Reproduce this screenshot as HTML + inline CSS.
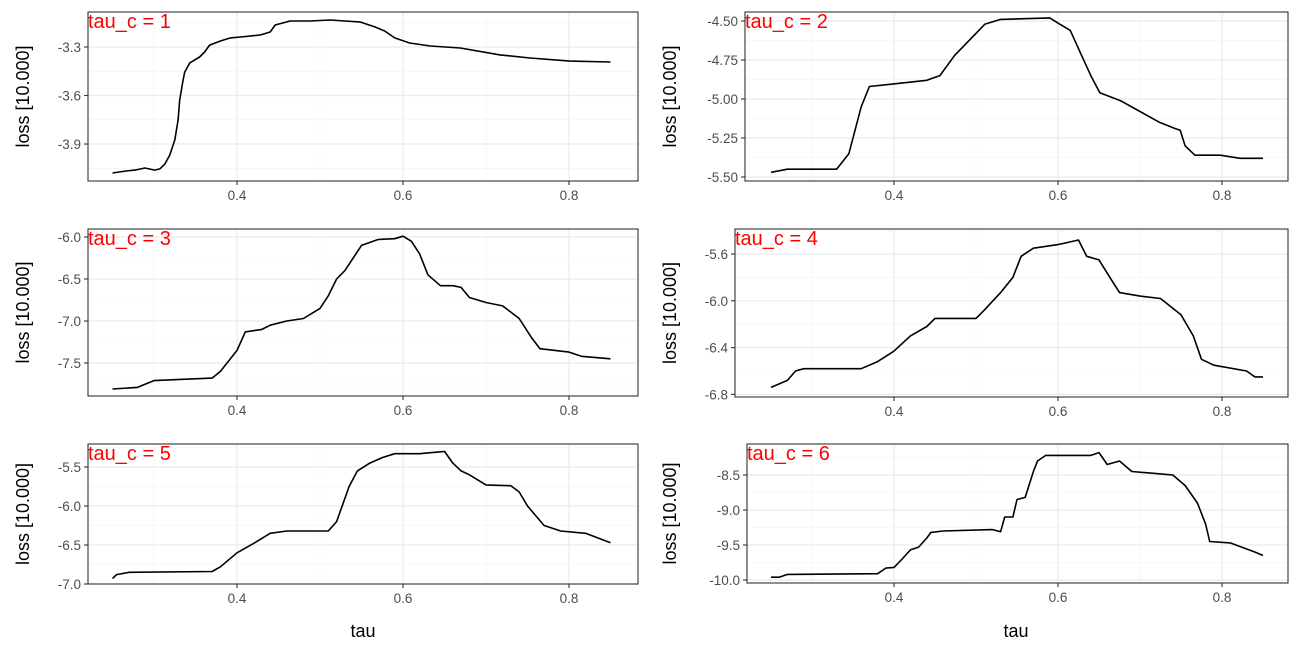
<!DOCTYPE html>
<html><head><meta charset="utf-8"><style>
body{margin:0;background:#fff}
svg{display:block;font-family:"Liberation Sans",sans-serif}
</style></head><body>
<svg id="chart" width="1299" height="649"></svg>
<script>
const xTicks=[0.4,0.6,0.8];
const xMinor=[0.3,0.5,0.7];
const p1Tau=[0.25,0.266,0.277,0.289,0.301,0.307,0.313,0.319,0.325,0.329,0.331,0.335,0.337,0.343,0.349,0.355,0.361,0.367,0.38,0.392,0.404,0.428,0.44,0.446,0.464,0.488,0.512,0.53,0.548,0.566,0.578,0.59,0.608,0.633,0.669,0.717,0.753,0.801,0.85];
const p1Loss=[-4.079,-4.067,-4.061,-4.048,-4.061,-4.054,-4.024,-3.968,-3.875,-3.751,-3.628,-3.504,-3.455,-3.399,-3.38,-3.362,-3.331,-3.288,-3.263,-3.244,-3.238,-3.226,-3.207,-3.164,-3.139,-3.139,-3.133,-3.139,-3.145,-3.176,-3.201,-3.244,-3.275,-3.294,-3.306,-3.349,-3.368,-3.387,-3.393];
const p2Tau=[0.25,0.27,0.33,0.345,0.36,0.37,0.44,0.456,0.474,0.487,0.511,0.53,0.59,0.602,0.615,0.627,0.64,0.651,0.676,0.70,0.724,0.743,0.749,0.755,0.767,0.798,0.822,0.85];
const p2Loss=[-5.47,-5.45,-5.45,-5.35,-5.05,-4.92,-4.88,-4.85,-4.72,-4.65,-4.52,-4.49,-4.48,-4.52,-4.56,-4.7,-4.85,-4.96,-5.01,-5.08,-5.15,-5.19,-5.2,-5.3,-5.36,-5.36,-5.38,-5.38];
const p3Tau=[0.25,0.28,0.30,0.37,0.38,0.40,0.41,0.43,0.44,0.46,0.48,0.50,0.51,0.52,0.53,0.55,0.57,0.59,0.60,0.61,0.62,0.63,0.645,0.66,0.67,0.68,0.70,0.72,0.74,0.755,0.765,0.80,0.815,0.85];
const p3Loss=[-7.81,-7.79,-7.71,-7.68,-7.6,-7.35,-7.13,-7.1,-7.05,-7.0,-6.97,-6.85,-6.7,-6.5,-6.4,-6.1,-6.03,-6.02,-5.99,-6.05,-6.2,-6.45,-6.58,-6.58,-6.6,-6.72,-6.78,-6.82,-6.97,-7.2,-7.33,-7.37,-7.42,-7.45];
const p4Tau=[0.25,0.27,0.28,0.29,0.36,0.38,0.40,0.42,0.44,0.45,0.50,0.51,0.53,0.545,0.555,0.57,0.60,0.625,0.635,0.65,0.665,0.675,0.70,0.725,0.75,0.765,0.775,0.79,0.83,0.84,0.85];
const p4Loss=[-6.74,-6.68,-6.6,-6.58,-6.58,-6.52,-6.43,-6.3,-6.22,-6.15,-6.15,-6.08,-5.93,-5.8,-5.62,-5.55,-5.52,-5.48,-5.62,-5.65,-5.82,-5.93,-5.96,-5.98,-6.12,-6.3,-6.5,-6.55,-6.6,-6.65,-6.65];
const p5Tau=[0.25,0.255,0.27,0.37,0.38,0.40,0.42,0.44,0.46,0.51,0.52,0.525,0.535,0.545,0.56,0.575,0.59,0.62,0.64,0.65,0.66,0.67,0.68,0.70,0.73,0.74,0.75,0.77,0.79,0.82,0.85];
const p5Loss=[-6.93,-6.88,-6.85,-6.84,-6.78,-6.6,-6.48,-6.35,-6.32,-6.32,-6.2,-6.05,-5.75,-5.55,-5.45,-5.38,-5.33,-5.33,-5.31,-5.3,-5.45,-5.55,-5.6,-5.73,-5.74,-5.82,-6.0,-6.25,-6.32,-6.35,-6.47];
const p6Tau=[0.25,0.26,0.27,0.38,0.39,0.40,0.41,0.42,0.43,0.44,0.445,0.46,0.52,0.53,0.535,0.545,0.55,0.56,0.57,0.575,0.585,0.64,0.65,0.66,0.675,0.69,0.72,0.74,0.755,0.77,0.78,0.785,0.81,0.84,0.85];
const p6Loss=[-9.96,-9.96,-9.92,-9.91,-9.83,-9.82,-9.7,-9.57,-9.53,-9.4,-9.32,-9.3,-9.28,-9.31,-9.1,-9.1,-8.85,-8.82,-8.45,-8.3,-8.22,-8.22,-8.18,-8.35,-8.3,-8.45,-8.48,-8.5,-8.65,-8.9,-9.2,-9.45,-9.47,-9.6,-9.65];
const p1Ticks=[-3.3,-3.6,-3.9], p2Ticks=[-4.5,-4.75,-5.0,-5.25,-5.5], p3Ticks=[-6.0,-6.5,-7.0,-7.5];
const p4Ticks=[-5.6,-6.0,-6.4,-6.8], p5Ticks=[-5.5,-6.0,-6.5,-7.0], p6Ticks=[-8.5,-9.0,-9.5,-10.0];
const p1Labels=["-3.3","-3.6","-3.9"], p2Labels=["-4.50","-4.75","-5.00","-5.25","-5.50"], p3Labels=["-6.0","-6.5","-7.0","-7.5"];
const p4Labels=["-5.6","-6.0","-6.4","-6.8"], p5Labels=["-5.5","-6.0","-6.5","-7.0"], p6Labels=["-8.5","-9.0","-9.5","-10.0"];

const panels=[
 {n:1,tau:p1Tau,loss:p1Loss,ticks:p1Ticks,labels:p1Labels,L:88,R:638,T:12,B:181,y0:47,py:161.7,col:0},
 {n:2,tau:p2Tau,loss:p2Loss,ticks:p2Ticks,labels:p2Labels,L:745,R:1288,T:12,B:181,y0:21,py:156,col:1},
 {n:3,tau:p3Tau,loss:p3Loss,ticks:p3Ticks,labels:p3Labels,L:88,R:638,T:229,B:396,y0:237,py:84,col:0},
 {n:4,tau:p4Tau,loss:p4Loss,ticks:p4Ticks,labels:p4Labels,L:735,R:1288,T:229,B:397,y0:254,py:117,col:1},
 {n:5,tau:p5Tau,loss:p5Loss,ticks:p5Ticks,labels:p5Labels,L:88,R:638,T:444,B:584,y0:467,py:78,col:0},
 {n:6,tau:p6Tau,loss:p6Loss,ticks:p6Ticks,labels:p6Labels,L:747,R:1288,T:444,B:583,y0:475,py:70,col:1}
];
const svg=document.getElementById('chart');
const NS='http://www.w3.org/2000/svg';
function mk(tag,attrs,parent){const e=document.createElementNS(NS,tag);for(const k in attrs)e.setAttribute(k,attrs[k]);parent.appendChild(e);return e;}
panels.forEach(p=>{
 const g=mk('g',{},svg);
 
 
 const xs=p.col===0?(t=>237+(t-0.4)*830):(t=>894+(t-0.4)*820);
 const top0=p.ticks[0];
 const ys=v=>p.y0-(v-top0)*p.py;
 mk('rect',{x:p.L,y:p.T,width:p.R-p.L,height:p.B-p.T,fill:'#fff'},g);
 const grid=mk('g',{},g);
 
 
 const step=p.ticks[0]-p.ticks[1];
 const minors=[];
 for(let i=-1;i<p.ticks.length;i++){minors.push(p.ticks[0]-step*(i+0.5));}
 minors.forEach(v=>{const y=ys(v);if(y>p.T&&y<p.B)mk('line',{x1:p.L,x2:p.R,y1:y,y2:y,stroke:'#f2f2f2','stroke-width':0.6},grid);});
 xMinor.forEach(t=>{const x=xs(t);mk('line',{x1:x,x2:x,y1:p.T,y2:p.B,stroke:'#f2f2f2','stroke-width':0.6},grid);});
 p.ticks.forEach(v=>{const y=ys(v);mk('line',{x1:p.L,x2:p.R,y1:y,y2:y,stroke:'#ebebeb','stroke-width':1.2},grid);});
 xTicks.forEach(t=>{const x=xs(t);mk('line',{x1:x,x2:x,y1:p.T,y2:p.B,stroke:'#ebebeb','stroke-width':1.2},grid);});
 const pts=p.tau.map((t,i)=>xs(t).toFixed(1)+','+ys(p.loss[i]).toFixed(1)).join(' ');
 const line=mk('polyline',{points:pts,fill:'none',stroke:'#000','stroke-width':1.6,'stroke-linejoin':'round'},g);
 
 
 mk('rect',{x:p.L,y:p.T,width:p.R-p.L,height:p.B-p.T,fill:'none',stroke:'#333','stroke-width':1.1},g);
 p.ticks.forEach((v,i)=>{const y=ys(v);
  mk('line',{x1:p.L-4,x2:p.L,y1:y,y2:y,stroke:'#333','stroke-width':1.1},g);
  const tx=mk('text',{x:p.L-7,y:y+5,'text-anchor':'end','font-size':13.5,fill:'#4d4d4d'},g);
  tx.textContent=p.labels[i];
  
  
 });
 xTicks.forEach(t=>{const x=xs(t);
  mk('line',{x1:x,x2:x,y1:p.B,y2:p.B+4,stroke:'#333','stroke-width':1.1},g);
  const tx=mk('text',{x:x,y:p.B+19,'text-anchor':'middle','font-size':13.5,fill:'#4d4d4d'},g);
  tx.textContent=t.toFixed(1);
  
  
 });
 const lab=mk('text',{x:p.L,y:p.T+16,'font-size':20,fill:'#ff0000'},g);
 lab.textContent='tau_c = '+p.n;
 
 
 const yl=p.col===0?29:676;
 const yc=(p.T+p.B)/2;
 const yt=mk('text',{x:yl,y:yc,transform:'rotate(-90 '+yl+' '+yc+')','text-anchor':'middle','font-size':18,fill:'#000'},g);
 yt.textContent='loss [10.000]';
 
 
});
[[363,'x-axis-title-left'],[1016,'x-axis-title-right']].forEach(a=>{
 const t=mk('text',{x:a[0],y:637,'text-anchor':'middle','font-size':18,fill:'#000'},svg);
 t.textContent='tau';
 
 
});
</script>
</body></html>
